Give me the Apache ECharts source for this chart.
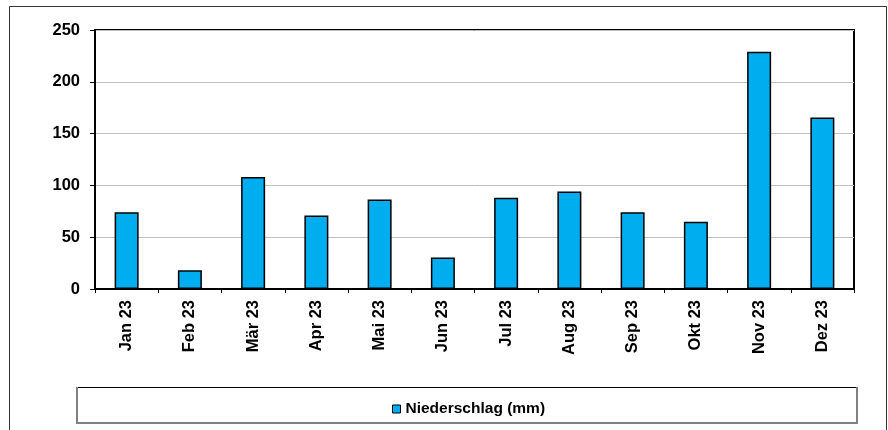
<!DOCTYPE html>
<html>
<head>
<meta charset="utf-8">
<script src="https://cdn.jsdelivr.net/npm/echarts@6/dist/echarts.min.js"></script>
<style>
html, body { margin: 0; padding: 0; background: #fff; }
#chart { width: 888px; height: 430px; }
</style>
</head>
<body>
<div id="chart"></div>
<script>
// Monatsniederschlag 2023
const months = ['Jan 23', 'Feb 23', 'Mär 23', 'Apr 23', 'Mai 23', 'Jun 23',
                'Jul 23', 'Aug 23', 'Sep 23', 'Okt 23', 'Nov 23', 'Dez 23']
const niederschlag = [74, 18, 108, 71, 86.5, 30.5, 88, 94, 74, 65, 229, 165.5]
const seriesName = 'Niederschlag (mm)'

let chart = echarts.init(document.getElementById('chart'))
const font = 'Liberation Sans, Arial, sans-serif'

let option = {
    animation: false,
    backgroundColor: '#fff',
    graphic: [
        {   // Rahmen aussen
            type: 'rect', z: -1,
            shape: { x: 9.5, y: 6.5, width: 877, height: 440 },
            style: { fill: '#fff', stroke: '#333', lineWidth: 1 }
        },
        // Legendenrahmen: oben schwarz, Rest grau (wie Excel-Schatten)
        { type: 'rect', shape: { x: 77, y: 387, width: 780, height: 36 }, style: { fill: '#fff' } },
        { type: 'line', shape: { x1: 77, y1: 387.5, x2: 857, y2: 387.5 }, style: { stroke: '#000', lineWidth: 1 } },
        {
            type: 'polyline',
            shape: { points: [[77, 387], [77, 423], [857, 423], [857, 387]] },
            style: { stroke: '#808080', lineWidth: 2, fill: null }
        }
    ],
    grid: {
        left: 95,
        right: 34,
        top: 30,
        bottom: 141,
        show: true,
        borderColor: '#000',
        borderWidth: 2,
        backgroundColor: '#fff'
    },
    legend: {
        data: [seriesName],
        top: 396,
        left: 387,
        itemWidth: 8,
        itemHeight: 8,
        itemGap: 4,
        icon: 'rect',
        itemStyle: { borderColor: '#000', borderWidth: 1 },
        textStyle: { fontFamily: font, fontWeight: 'bold', fontSize: 15.5, color: '#000' }
    },
    xAxis: {
        type: 'category',
        data: months,
        axisLine: { lineStyle: { color: '#000', width: 2 } },
        axisTick: { show: true, length: 4, lineStyle: { color: '#000', width: 1 } },
        axisLabel: {
            rotate: 90,
            margin: 11,
            color: '#000',
            fontFamily: font,
            fontWeight: 'bold',
            fontSize: 16.5
        }
    },
    yAxis: {
        type: 'value',
        min: 0,
        max: 250,
        interval: 50,
        axisLine: { show: true, lineStyle: { color: '#000', width: 2 } },
        axisTick: { show: true, length: 5, lineStyle: { color: '#000', width: 1 } },
        axisLabel: {
            margin: 15,
            color: '#000',
            fontFamily: font,
            fontWeight: 'bold',
            fontSize: 16.5
        },
        splitLine: { lineStyle: { color: '#c0c0c0', width: 1 } }
    },
    series: [{
        name: seriesName,
        type: 'bar',
        data: niederschlag,
        barWidth: 24,
        itemStyle: { color: '#00aeef', borderColor: '#000', borderWidth: 1.5 }
    }]
}
chart.setOption(option)
</script>
</body>
</html>
